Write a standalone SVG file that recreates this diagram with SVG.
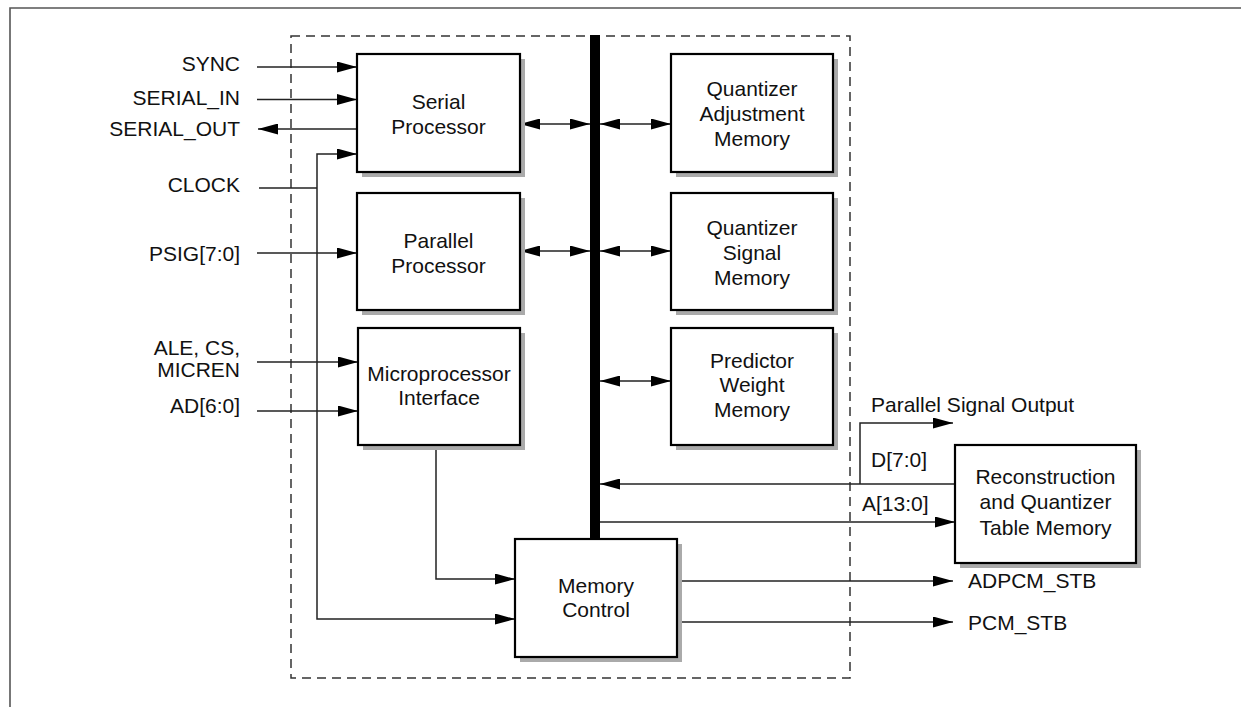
<svg xmlns="http://www.w3.org/2000/svg" width="1241" height="707" viewBox="0 0 1241 707">
<style>
.frame{fill:none;stroke:#555;stroke-width:1.6}
.dash{fill:none;stroke:#333;stroke-width:1.5;stroke-dasharray:9,6}
.box{fill:#fff;stroke:#000;stroke-width:2.2}
.shadow{fill:#aaa;stroke:none}
.ln{fill:none;stroke:#222;stroke-width:1.5}
.arr{marker-end:url(#ah)}
.bi{marker-start:url(#ah);marker-end:url(#ah)}
text{font-family:"Liberation Sans",Arial,Helvetica,sans-serif;font-size:21px;fill:#111}
.c{text-anchor:middle}
.r{text-anchor:end}
</style>
<defs>
<marker id="ah" markerUnits="userSpaceOnUse" markerWidth="20" markerHeight="11" refX="20" refY="5.5" orient="auto-start-reverse" viewBox="0 0 20 11">
<path d="M0,0 L20,5.5 L0,11 z" fill="#000"/>
</marker>
</defs>
<rect width="1241" height="707" fill="#fff"/>
<path class="frame" d="M10,707 L10,8 L1241,8"/>
<rect class="dash" x="291" y="36" width="559" height="642"/>

<g id="connectors">
<line class="ln arr" x1="257" y1="67" x2="357" y2="67"/>
<line class="ln arr" x1="257" y1="99.5" x2="357" y2="99.5"/>
<line class="ln arr" x1="357" y1="129" x2="258" y2="129"/>
<polyline class="ln arr" points="317,188 317,154 357,154"/>
<line class="ln" x1="259" y1="188" x2="317" y2="188"/>
<polyline class="ln arr" points="317,188 317,619 515,619"/>
<line class="ln arr" x1="257" y1="253" x2="357" y2="253"/>
<line class="ln arr" x1="257" y1="362" x2="358" y2="362"/>
<line class="ln arr" x1="257" y1="411" x2="358" y2="411"/>
<polyline class="ln arr" points="436,445 436,579 515,579"/>
<line class="ln bi" x1="520" y1="124" x2="590" y2="124"/>
<line class="ln bi" x1="600" y1="124" x2="671" y2="124"/>
<line class="ln bi" x1="520" y1="251" x2="590" y2="251"/>
<line class="ln bi" x1="600" y1="251" x2="671" y2="251"/>
<line class="ln bi" x1="600" y1="381" x2="671" y2="381"/>
<line class="ln arr" x1="955" y1="484" x2="600" y2="484"/>
<polyline class="ln arr" points="860,484 860,423 953,423"/>
<line class="ln arr" x1="600" y1="522" x2="955" y2="522"/>
<line class="ln arr" x1="677" y1="581" x2="953" y2="581"/>
<line class="ln arr" x1="677" y1="622" x2="953" y2="622"/>
<rect id="bus" x="590" y="35" width="10" height="504" fill="#000"/>
</g>

<g id="serial-processor">
<rect class="shadow" x="362" y="59" width="163" height="118"/>
<rect class="box" x="357" y="54" width="163" height="118"/>
<text class="c" x="438.5" y="109">Serial</text>
<text class="c" x="438.5" y="134">Processor</text>
</g>
<g id="parallel-processor">
<rect class="shadow" x="362" y="198" width="163" height="117"/>
<rect class="box" x="357" y="193" width="163" height="117"/>
<text class="c" x="438.5" y="248">Parallel</text>
<text class="c" x="438.5" y="273">Processor</text>
</g>
<g id="microprocessor-interface">
<rect class="shadow" x="363" y="333" width="162" height="117"/>
<rect class="box" x="358" y="328" width="162" height="117"/>
<text class="c" x="439" y="381">Microprocessor</text>
<text class="c" x="439" y="405">Interface</text>
</g>
<g id="memory-control">
<rect class="shadow" x="520" y="544" width="162" height="118"/>
<rect class="box" x="515" y="539" width="162" height="118"/>
<text class="c" x="596" y="593">Memory</text>
<text class="c" x="596" y="617">Control</text>
</g>
<g id="quantizer-adjustment-memory">
<rect class="shadow" x="676" y="59" width="162" height="118"/>
<rect class="box" x="671" y="54" width="162" height="118"/>
<text class="c" x="752" y="96">Quantizer</text>
<text class="c" x="752" y="121">Adjustment</text>
<text class="c" x="752" y="146">Memory</text>
</g>
<g id="quantizer-signal-memory">
<rect class="shadow" x="676" y="198" width="162" height="117"/>
<rect class="box" x="671" y="193" width="162" height="117"/>
<text class="c" x="752" y="235">Quantizer</text>
<text class="c" x="752" y="260">Signal</text>
<text class="c" x="752" y="285">Memory</text>
</g>
<g id="predictor-weight-memory">
<rect class="shadow" x="676" y="333" width="162" height="117"/>
<rect class="box" x="671" y="328" width="162" height="117"/>
<text class="c" x="752" y="368">Predictor</text>
<text class="c" x="752" y="392">Weight</text>
<text class="c" x="752" y="417">Memory</text>
</g>
<g id="reconstruction-table-memory">
<rect class="shadow" x="960" y="450" width="181" height="118"/>
<rect class="box" x="955" y="445" width="181" height="118"/>
<text class="c" x="1045.5" y="484">Reconstruction</text>
<text class="c" x="1045.5" y="509">and Quantizer</text>
<text class="c" x="1045.5" y="535">Table Memory</text>
</g>

<g id="labels">
<text class="r" x="240" y="71">SYNC</text>
<text class="r" x="240" y="105">SERIAL_IN</text>
<text class="r" x="240" y="136">SERIAL_OUT</text>
<text class="r" x="240" y="192">CLOCK</text>
<text class="r" x="240" y="261">PSIG[7:0]</text>
<text class="r" x="240" y="355">ALE, CS,</text>
<text class="r" x="240" y="377">MICREN</text>
<text class="r" x="240" y="413">AD[6:0]</text>
<text x="871" y="412">Parallel Signal Output</text>
<text x="871" y="467">D[7:0]</text>
<text x="862" y="511">A[13:0]</text>
<text x="968" y="588">ADPCM_STB</text>
<text x="968" y="630">PCM_STB</text>
</g>
</svg>
